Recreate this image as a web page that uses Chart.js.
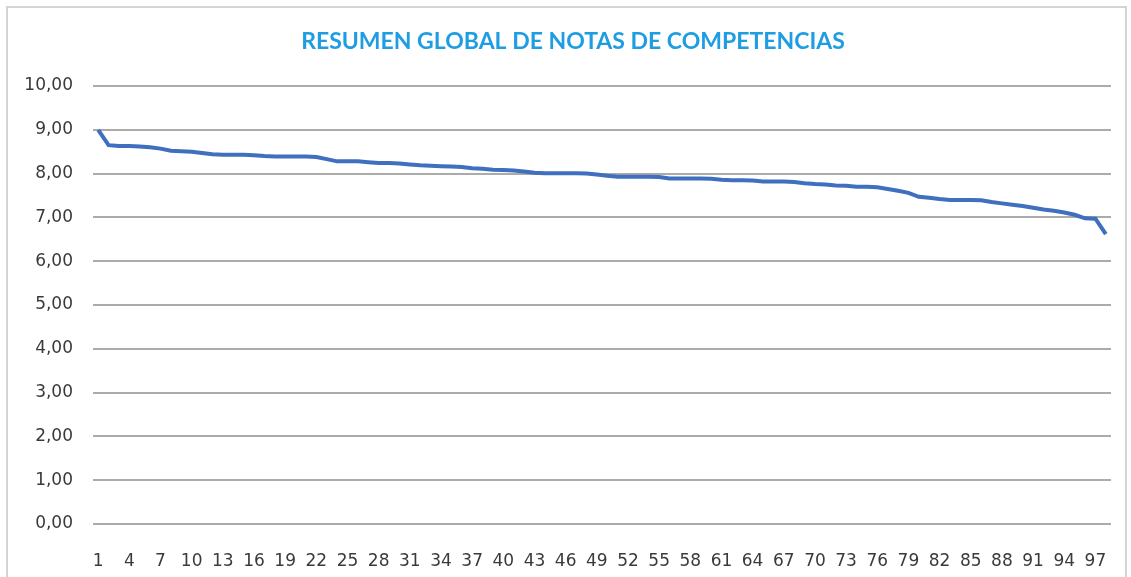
<!DOCTYPE html>
<html>
<head>
<meta charset="utf-8">
<script src="https://cdn.jsdelivr.net/npm/chart.js@4/dist/chart.umd.min.js"></script>
<style>
  html, body { margin: 0; padding: 0; background: #ffffff; }
  #wrap { position: relative; width: 1131px; height: 577px; overflow: hidden; }
  #frame { position: absolute; left: 6px; top: 6px; width: 1121px; height: 600px;
           border: 2px solid #d4d4d4; box-sizing: border-box; }
  canvas { position: absolute; left: 0; top: 0; }
</style>
</head>
<body>
<div id="wrap">
  <div id="frame"></div>
  <canvas id="c" width="1131" height="577"></canvas>
</div>
<script>
// Student numbers (ordered by global grade)
const categories = [
  '1','2','3','4','5','6','7','8','9','10','11','12','13','14','15','16','17','18','19','20',
  '21','22','23','24','25','26','27','28','29','30','31','32','33','34','35','36','37','38','39','40',
  '41','42','43','44','45','46','47','48','49','50','51','52','53','54','55','56','57','58','59','60',
  '61','62','63','64','65','66','67','68','69','70','71','72','73','74','75','76','77','78','79','80',
  '81','82','83','84','85','86','87','88','89','90','91','92','93','94','95','96','97','98'
];

// Global competence grade for each student
const notas = [
  9.00, 8.65, 8.63, 8.63, 8.62, 8.60, 8.57, 8.52, 8.51, 8.50,
  8.47, 8.44, 8.43, 8.43, 8.43, 8.42, 8.40, 8.39, 8.39, 8.39,
  8.39, 8.38, 8.33, 8.28, 8.28, 8.28, 8.26, 8.24, 8.24, 8.23,
  8.21, 8.19, 8.18, 8.17, 8.16, 8.15, 8.12, 8.11, 8.09, 8.08,
  8.07, 8.05, 8.02, 8.01, 8.01, 8.01, 8.01, 8.00, 7.98, 7.95,
  7.93, 7.93, 7.93, 7.93, 7.92, 7.89, 7.89, 7.89, 7.89, 7.88,
  7.86, 7.85, 7.85, 7.84, 7.82, 7.82, 7.82, 7.81, 7.78, 7.76,
  7.75, 7.73, 7.72, 7.70, 7.70, 7.69, 7.65, 7.61, 7.56, 7.47,
  7.45, 7.42, 7.40, 7.40, 7.40, 7.39, 7.35, 7.32, 7.29, 7.26,
  7.22, 7.18, 7.15, 7.11, 7.06, 6.98, 6.97, 6.62
];

// Value axis labels (0,00 ... 10,00)
const yTickLabels = ['0,00','1,00','2,00','3,00','4,00','5,00','6,00','7,00','8,00','9,00','10,00'];

const titulo = 'RESUMEN GLOBAL DE NOTAS DE COMPETENCIAS';

// Chart title, centred over the whole chart frame (value-axis labels included)
const tituloPlugin = {
  id: 'tituloCentrado',
  afterDraw(chart) {
    const ctx = chart.ctx;
    ctx.save();
    ctx.font = 'bold 23px Lato';
    ctx.fillStyle = '#1f9de2';
    ctx.textAlign = 'center';
    ctx.textBaseline = 'middle';
    ctx.fillText(titulo, 573, 42);
    ctx.restore();
  }
};

new Chart(document.getElementById('c'), {
  type: 'line',
  data: {
    labels: categories,
    datasets: [{
      data: notas,
      borderColor: '#3f6fbe',
      borderWidth: 4,
      pointRadius: 0,
      pointHoverRadius: 0,
      tension: 0,
      fill: false
    }]
  },
  plugins: [tituloPlugin],
  options: {
    responsive: false,
    animation: false,
    layout: { padding: { left: 0, right: 20, top: 86, bottom: 0 } },
    plugins: {
      legend: { display: false },
      tooltip: { enabled: false },
      title: { display: false }
    },
    scales: {
      x: {
        type: 'category',
        offset: true,
        grid: { display: false },
        border: { display: false },
        ticks: {
          autoSkip: false,
          maxRotation: 0,
          minRotation: 0,
          padding: 19,
          color: '#3a3a3a',
          font: { family: 'DejaVu Sans', size: 17 },
          callback: (v, i) => (i % 3 === 0 ? categories[i] : '')
        },
        afterFit: (s) => { s.height = 53; }
      },
      y: {
        min: 0,
        max: 10,
        grid: { color: '#ababab', lineWidth: 2, drawTicks: false },
        border: { display: false },
        ticks: {
          stepSize: 1,
          padding: 20,
          color: '#3a3a3a',
          font: { family: 'DejaVu Sans', size: 17 },
          callback: (v) => yTickLabels[Math.round(v)]
        },
        afterFit: (s) => { s.width = 93; }
      }
    }
  }
});
</script>
</body>
</html>
